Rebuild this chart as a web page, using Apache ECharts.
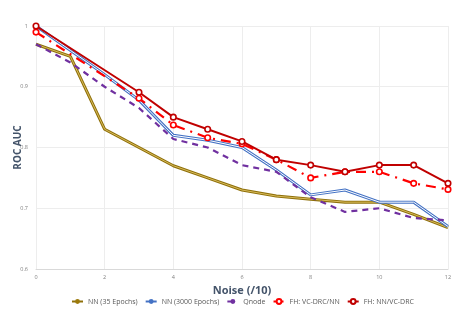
<!DOCTYPE html>
<html>
<head>
<meta charset="utf-8">
<script src="https://cdn.jsdelivr.net/npm/echarts@6/dist/echarts.min.js"></script>
<style>
  html, body { margin: 0; padding: 0; background: #fff; }
  #chart { width: 458px; height: 331px; }
</style>
</head>
<body>
<div id="chart"></div>
<script>
// Noise levels (x axis)
var noise = [0, 1, 2, 3, 4, 5, 6, 7, 8, 9, 10, 11, 12];
var noiseFH = [0, 3, 4, 5, 6, 7, 8, 9, 10, 11, 12];

// ROC AUC values
var nn35 = [0.97, 0.95, 0.83, 0.80, 0.77, 0.75, 0.73, 0.72, 0.715, 0.71, 0.71, 0.69, 0.668];
var nn3000 = [1.0, 0.96, 0.92, 0.878, 0.82, 0.812, 0.80, 0.763, 0.722, 0.73, 0.71, 0.71, 0.67];
var qnode = [0.97, 0.94, 0.90, 0.865, 0.814, 0.80, 0.771, 0.76, 0.718, 0.694, 0.70, 0.684, 0.68];
var fhVcNn = [0.99, 0.881, 0.837, 0.816, 0.806, 0.78, 0.75, 0.76, 0.76, 0.741, 0.731];
var fhNnVc = [1.0, 0.891, 0.85, 0.83, 0.81, 0.78, 0.771, 0.76, 0.771, 0.771, 0.741];

var legendNames = ['NN (35 Epochs)', 'NN (3000 Epochs)', 'Qnode', 'FH: VC-DRC/NN', 'FH: NN/VC-DRC'];

// pair x values with y values
function pairs(xs, ys) {
  return ys.map(function (y, i) { return [xs[i], y]; });
}

var font = 'Open Sans';

var option = {
  animation: false,
  grid: { left: 36, right: 10, top: 26, bottom: 62, outerBoundsMode: 'none', containLabel: false },
  legend: {
    data: legendNames,
    left: 66,
    top: 293,
    width: 390,
    itemWidth: 11,
    itemHeight: 6,
    itemGap: 7,
    textStyle: { fontFamily: font, fontSize: 7, color: '#595959' }
  },
  xAxis: {
    type: 'value',
    min: 0,
    max: 12,
    interval: 2,
    name: 'Noise (/10)',
    nameLocation: 'middle',
    nameGap: 10,
    nameTextStyle: { fontFamily: font, fontSize: 11, fontWeight: 'bold', color: '#44546A' },
    axisLine: { show: true, lineStyle: { color: '#D9D9D9' } },
    axisTick: { show: false },
    axisLabel: { fontFamily: font, fontSize: 5.5, color: '#7F7F7F', margin: 5 },
    splitLine: { show: true, lineStyle: { color: '#EDEDED' } }
  },
  yAxis: {
    type: 'value',
    min: 0.6,
    max: 1,
    interval: 0.1,
    name: 'ROC AUC',
    nameLocation: 'middle',
    nameGap: 13,
    nameMoveOverlap: false,
    nameTextStyle: { fontFamily: font, fontSize: 10, fontWeight: 'bold', color: '#44546A' },
    axisLine: { show: false },
    axisTick: { show: false },
    axisLabel: {
      fontFamily: font, fontSize: 5.5, color: '#7F7F7F', margin: 8,
      formatter: function (v) { return String(Math.round(v * 10) / 10); }
    },
    splitLine: { show: true, lineStyle: { color: '#EDEDED' } }
  },
  series: [
    {
      name: 'NN (35 Epochs)',
      type: 'line',
      data: pairs(noise, nn35),
      symbol: 'none',
      itemStyle: { color: '#9C7A0B' },
      lineStyle: { color: '#8F700A', width: 3 }
    },
    {
      name: 'nn35-inner',
      type: 'line',
      data: pairs(noise, nn35),
      symbol: 'none',
      silent: true,
      lineStyle: { color: '#D9BC5C', width: 1 }
    },
    {
      name: 'NN (3000 Epochs)',
      type: 'line',
      data: pairs(noise, nn3000),
      symbol: 'none',
      itemStyle: { color: '#4472C4' },
      lineStyle: { color: '#4472C4', width: 3 }
    },
    {
      name: 'nn3000-inner',
      type: 'line',
      data: pairs(noise, nn3000),
      symbol: 'none',
      silent: true,
      lineStyle: { color: '#FFFFFF', width: 1 }
    },
    {
      name: 'Qnode',
      type: 'line',
      data: pairs(noise, qnode),
      symbol: 'none',
      itemStyle: { color: '#7030A0' },
      lineStyle: { color: '#7030A0', width: 2.2, type: [6, 5] }
    },
    {
      name: 'FH: VC-DRC/NN',
      type: 'line',
      data: pairs(noiseFH, fhVcNn),
      symbol: 'circle',
      symbolSize: 5.5,
      itemStyle: { color: '#FFFFFF', borderColor: '#FF0000', borderWidth: 1.6 },
      lineStyle: { color: '#FF0000', width: 2.2, type: [10, 6, 2, 6] }
    },
    {
      name: 'FH: NN/VC-DRC',
      type: 'line',
      data: pairs(noiseFH, fhNnVc),
      symbol: 'circle',
      symbolSize: 5.5,
      itemStyle: { color: '#FFFFFF', borderColor: '#C00000', borderWidth: 1.6 },
      lineStyle: { color: '#C00000', width: 2 }
    }
  ]
};

echarts.init(document.getElementById('chart')).setOption(option);
</script>
</body>
</html>
